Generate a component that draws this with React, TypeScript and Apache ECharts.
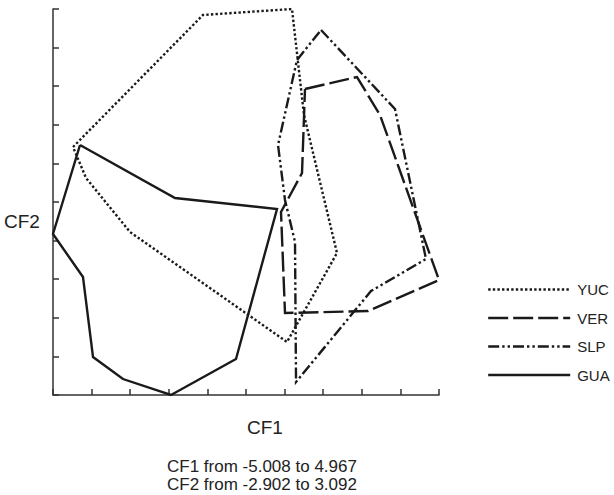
import React, { useEffect, useRef } from "react";
import * as echarts from "echarts";

const GROUPS = ["YUC", "VER", "SLP", "GUA"];

const YUC_CF1 = [-4.491, -1.132, 1.168, 1.478, 2.331, 1.039, -3.018, -4.155, -4.491];
const YUC_CF2 = [0.949, 2.999, 3.092, 1.446, -0.697, -2.079, -0.371, 0.468, 0.949];

const VER_CF1 = [1.504, 2.848, 3.442, 4.967, 3.132, 0.987, 0.884, 1.427, 1.504];
const VER_CF2 = [1.85, 2.036, 1.446, -1.116, -1.598, -1.629, -0.06, 0.545, 1.85];

const SLP_CF1 = [1.918, 3.83, 4.631, 3.21, 1.272, 1.246, 0.987, 0.807, 1.297, 1.918];
const SLP_CF2 = [2.766, 1.539, -0.79, -1.287, -2.7, -0.526, 0.126, 0.98, 2.3, 2.766];

const GUA_CF1 = [-4.31, -1.855, 0.781, -0.279, -1.959, -3.199, -3.974, -4.233, -5.008, -4.31];
const GUA_CF2 = [0.98, 0.157, -0.014, -2.343, -2.902, -2.654, -2.312, -1.07, -0.402, 0.98];

const CF1_RANGE = [-5.008, 4.967];
const CF2_RANGE = [-2.902, 3.092];
const TICK_STEPS = 10;

const AXIS_TITLES = ["CF1", "CF2"];
const RANGE_NOTES = [
  `CF1 from -${Math.abs(CF1_RANGE[0]).toFixed(3)} to ${CF1_RANGE[1].toFixed(3)}`,
  `CF2 from -${Math.abs(CF2_RANGE[0]).toFixed(3)} to ${CF2_RANGE[1].toFixed(3)}`,
];

const FONT = "'Liberation Sans', Arial, sans-serif";
const INK = "#222";

function pairs(xs: number[], ys: number[]) {
  return xs.map((x, i) => [x, ys[i]]);
}

export default function App() {
  const ref = useRef<HTMLDivElement>(null);

  useEffect(() => {
    if (!ref.current) return;
    const chart = echarts.init(ref.current, undefined, { renderer: "svg" });

    const dashes: Record<string, any> = {
      YUC: [2.4, 2.2],
      VER: [20, 5],
      SLP: [11, 3, 2.4, 3, 2.4, 3],
      GUA: "solid",
    };
    const dataMap: Record<string, number[][]> = {
      YUC: pairs(YUC_CF1, YUC_CF2),
      VER: pairs(VER_CF1, VER_CF2),
      SLP: pairs(SLP_CF1, SLP_CF2),
      GUA: pairs(GUA_CF1, GUA_CF2),
    };

    const axisLine = { show: true, lineStyle: { color: "#333", width: 1.5 } };
    const tick = { show: true, inside: true, length: 6, lineStyle: { color: "#333", width: 1.5 } };

    chart.setOption({
      animation: false,
      backgroundColor: "#fff",
      grid: { left: 53, right: 175, top: 9, bottom: 100, containLabel: false },
      xAxis: [
        { type: "value", min: CF1_RANGE[0], max: CF1_RANGE[1], show: false },
        {
          type: "value",
          min: 0,
          max: TICK_STEPS,
          interval: 1,
          position: "bottom",
          axisLine,
          axisTick: tick,
          axisLabel: { show: false },
          splitLine: { show: false },
        },
      ],
      yAxis: [
        { type: "value", min: CF2_RANGE[0], max: CF2_RANGE[1], show: false },
        {
          type: "value",
          min: 0,
          max: TICK_STEPS,
          interval: 1,
          position: "left",
          axisLine,
          axisTick: tick,
          axisLabel: { show: false },
          splitLine: { show: false },
        },
      ],
      legend: {
        data: GROUPS,
        orient: "vertical",
        left: 482,
        top: 277,
        itemWidth: 82,
        itemHeight: 14,
        itemGap: 13.5,
        itemStyle: { opacity: 0, borderWidth: 0 },
        lineStyle: { width: 2.4 },
        textStyle: { fontFamily: FONT, fontSize: 15, color: INK, padding: [0, 0, 0, 2] },
      },
      graphic: [
        {
          type: "text",
          left: 247,
          top: 418,
          style: { text: AXIS_TITLES[0], font: `19px ${FONT}`, fill: INK },
        },
        {
          type: "text",
          left: 4,
          top: 212,
          style: { text: AXIS_TITLES[1], font: `19px ${FONT}`, fill: INK },
        },
        {
          type: "text",
          left: 167,
          top: 458,
          style: { text: RANGE_NOTES[0], font: `17px ${FONT}`, fill: INK },
        },
        {
          type: "text",
          left: 167,
          top: 476,
          style: { text: RANGE_NOTES[1], font: `17px ${FONT}`, fill: INK },
        },
      ],
      series: GROUPS.map((g) => ({
        name: g,
        type: "line",
        xAxisIndex: 0,
        yAxisIndex: 0,
        data: dataMap[g],
        symbol: "none",
        silent: true,
        color: "#1a1a1a",
        lineStyle: { color: "#1a1a1a", width: 2.4, type: dashes[g], cap: "butt", join: "miter" },
      })),
    });

    return () => chart.dispose();
  }, []);

  return (
    <div
      ref={ref}
      style={{ position: "fixed", left: 0, top: 0, width: 614, height: 495, background: "#fff" }}
    />
  );
}
